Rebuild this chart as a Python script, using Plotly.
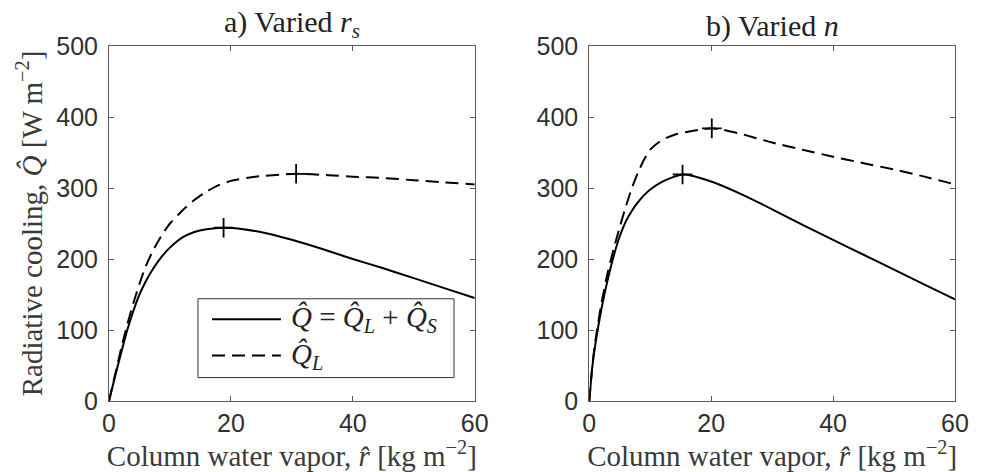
import plotly.graph_objects as go
from plotly.subplots import make_subplots

# Panel a) varied r_s
xa_Q = [0, 1, 2, 3, 4, 5, 6, 7, 8, 9, 10, 12, 14, 16, 18.8, 22, 26, 30, 35, 40, 45, 50, 55, 60]
ya_Q = [0, 35, 68, 100, 127, 150, 168, 183, 196, 207, 216, 230, 238, 242, 244, 242, 236, 227, 214, 200, 187, 173, 159, 145]
xa_QL = [0, 1, 2, 3, 4, 5, 6, 7, 8, 9, 10, 12, 14, 16, 18, 20, 24, 30.7, 36, 40, 45, 50, 55, 60]
ya_QL = [0, 37, 74, 108, 138, 165, 189, 208, 224, 238, 250, 268, 283, 295, 304, 310, 316, 320, 318, 316, 314, 311, 308, 305]
peak_a_x = [18.8, 30.7]
peak_a_y = [244, 320]

# Panel b) varied n
xb_Q = [0, 0.5, 1, 2, 3, 4, 5, 6, 7, 8, 9, 10, 12, 14, 15.3, 17, 19, 21, 25, 30, 35, 40, 45, 50, 55, 60]
yb_Q = [0, 48, 80, 130, 170, 204, 232, 253, 268, 280, 290, 298, 309, 316, 319, 317, 312, 306, 291, 270, 248, 227, 206, 185, 164, 143]
xb_QL = [0, 0.5, 1, 2, 3, 4, 5, 6, 7, 8, 9, 10, 12, 14, 16, 18, 20.1, 22, 25, 30, 35, 40, 45, 50, 55, 60]
yb_QL = [0, 50, 85, 138, 180, 214, 245, 274, 300, 322, 340, 354, 368, 375, 379, 382, 384, 382, 376, 364, 354, 344, 335, 326, 316, 305]
peak_b_x = [15.3, 20.1]
peak_b_y = [319, 384]

x_ticks = [0, 20, 40, 60]
y_ticks = [0, 100, 200, 300, 400, 500]

legend_labels = ["<i>Q\u0302</i> = <i>Q\u0302<sub>L</sub></i> + <i>Q\u0302<sub>S</sub></i>",
                 "<i>Q\u0302<sub>L</sub></i>"]

SERIF = "Liberation Serif"
SANS = "Liberation Sans"
AX = "#303030"
LINE = "#5a5a5a"
TXT = "#222222"
DASH = "13px,7px"

fig = make_subplots(rows=1, cols=2, horizontal_spacing=0.1354)

for col, (xq, yq, xl, yl, px, py) in enumerate(
    [(xa_Q, ya_Q, xa_QL, ya_QL, peak_a_x, peak_a_y),
     (xb_Q, yb_Q, xb_QL, yb_QL, peak_b_x, peak_b_y)], start=1):
    fig.add_trace(go.Scatter(x=xq, y=yq, mode="lines", name=legend_labels[0],
                             line=dict(color="black", width=2, shape="spline", smoothing=0.6),
                             showlegend=False), row=1, col=col)
    fig.add_trace(go.Scatter(x=xl, y=yl, mode="lines", name=legend_labels[1],
                             line=dict(color="black", width=2, dash=DASH,
                                       shape="spline", smoothing=0.6),
                             showlegend=False), row=1, col=col)
    fig.add_trace(go.Scatter(x=px, y=py, mode="markers", showlegend=False,
                             marker=dict(symbol="cross-thin", size=14,
                                         line=dict(color="black", width=1.8))),
                  row=1, col=col)

axis_common = dict(showgrid=False, zeroline=False, showline=True, linecolor=LINE,
                   linewidth=1, mirror="ticks", ticks="inside", ticklen=5,
                   tickcolor=LINE, tickfont=dict(family=SANS, size=25, color=AX))

for col in (1, 2):
    fig.update_xaxes(range=[0, 60], tickvals=x_ticks, **axis_common,
                     title=dict(text="Column water vapor, <i>r\u0302</i> [kg m<sup>\u22122</sup>]",
                                font=dict(family=SERIF, size=29, color="#3a3a3a"), standoff=3),
                     row=1, col=col)
    fig.update_yaxes(range=[0, 500], tickvals=y_ticks, ticklabelstandoff=5,
                     **axis_common, row=1, col=col)

fig.update_yaxes(title=dict(text="Radiative cooling, <i>Q\u0302</i> [W m<sup>\u22122</sup>]",
                            font=dict(family=SERIF, size=29, color="#3a3a3a"), standoff=5),
                 row=1, col=1)

fig.add_annotation(text="a) Varied <i>r<sub>s</sub></i>", x=0.2161, y=1.0, xref="paper", yref="paper",
                   xanchor="center", yanchor="bottom", yshift=1, showarrow=False,
                   font=dict(family=SERIF, size=30, color=TXT))
fig.add_annotation(text="b) Varied <i>n</i>", x=0.7839, y=1.0, xref="paper", yref="paper",
                   xanchor="center", yanchor="bottom", yshift=1, showarrow=False,
                   font=dict(family=SERIF, size=30, color=TXT))

# legend box inside panel a
fig.add_shape(type="rect", xref="x", yref="y", x0=14.6, x1=56.6, y0=33, y1=144,
              line=dict(color="#333333", width=1), fillcolor="white", layer="above")
fig.add_shape(type="line", xref="x", yref="y", x0=16.9, x1=28.2, y0=115, y1=115,
              line=dict(color="black", width=2), layer="above")
fig.add_shape(type="line", xref="x", yref="y", x0=16.9, x1=28.2, y0=64, y1=64,
              line=dict(color="black", width=2, dash=DASH), layer="above")
for lab, yy in zip(legend_labels, [115, 64]):
    fig.add_annotation(text=lab, xref="x", yref="y", x=29.5, y=yy, xanchor="left",
                       yanchor="middle", showarrow=False,
                       font=dict(family=SERIF, size=29, color=TXT))

fig.update_layout(
    width=981, height=472,
    margin=dict(l=109, r=23, t=46, b=70),
    paper_bgcolor="white", plot_bgcolor="white",
    showlegend=False,
)

fig.write_html("out.html")
